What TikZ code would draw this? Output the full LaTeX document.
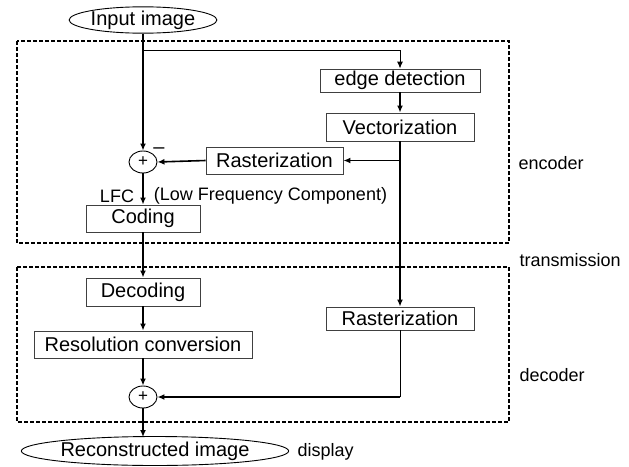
\documentclass[tikz,border=0pt]{standalone}
\usepackage{fontspec}
\setmainfont{Liberation Sans}
\usetikzlibrary{shapes.geometric,arrows.meta}
\begin{document}
\begin{tikzpicture}[x=1pt,y=-1pt,
  lbl/.style={font=\fontsize{20}{24}\selectfont},
  sml/.style={font=\fontsize{18}{22}\selectfont},
  blk/.style={draw=black!75,line width=0.9pt,inner sep=0pt,lbl},
  oval/.style={ellipse,draw=black,line width=0.9pt,inner sep=0pt,lbl},
  sumnode/.style={ellipse,draw=black,line width=0.9pt,inner sep=0pt,minimum width=28pt,minimum height=22pt,font=\fontsize{17}{18}\selectfont},
  grp/.style={draw=black,line width=1.3pt,dash pattern=on 4pt off 2pt},
  flow/.style={line width=1.6pt,-{Latex[length=7pt,width=6pt]}},
  thinflow/.style={line width=1pt,-{Latex[length=7pt,width=6pt]}}]
\useasboundingbox (0,0) rectangle (629,466);
% group boxes
\draw[grp] (17,41) rectangle (509,243);
\draw[grp] (17,267) rectangle (509,422);
% nodes
\node[oval,minimum width=139pt,minimum height=23pt] (in) at (143,20) {Input image};
\node[blk,minimum width=160pt,minimum height=23pt] (edge) at (400,80.5) {edge detection};
\node[blk,minimum width=148pt,minimum height=28pt] (vec) at (400,127) {Vectorization};
\node[blk,minimum width=137pt,minimum height=27pt] (rasE) at (274.5,160.5) {Rasterization};
\node[sumnode] (plusE) at (143,162) {+};
\node[lbl] (minus) at (159,151) {\textendash};
\node[sml] (lfc) at (117,196) {LFC};
\node[sml] (lfcl) at (270.5,196) {(Low Frequency Component)};
\node[blk,minimum width=114pt,minimum height=27pt] (coding) at (143,218.5) {Coding};
\node[blk,minimum width=114pt,minimum height=28pt] (decoding) at (143,292) {Decoding};
\node[blk,minimum width=218pt,minimum height=27pt] (res) at (143,344.5) {Resolution conversion};
\node[blk,minimum width=148pt,minimum height=23pt] (rasD) at (400,318.5) {Rasterization};
\node[sumnode] (plusD) at (143,397) {+};
\node[oval,minimum width=230pt,minimum height=29pt] (rec) at (155,451) {Reconstructed image};
\node[sml,anchor=west] (disp) at (294,452) {display};
\node[sml,anchor=west] (enc) at (515,163) {encoder};
\node[sml,anchor=west] (trans) at (516,260) {transmission};
\node[sml,anchor=west] (dec) at (516,375) {decoder};
% connectors
\coordinate (b1) at (143,50);
\coordinate (b2) at (400,160.5);
\coordinate (recTop) at (143,437);
\draw[flow] (in.south) -- (plusE.north);
\draw[thinflow] (b1) -| (edge.north);
\draw[flow] (edge.south) -- (vec.north);
\draw[flow] (vec.south) -- (rasD.north);
\draw[flow] (b2) -- (rasE.east);
\draw[flow] (rasE.west) -- (plusE.east);
\draw[flow] (plusE.south) -- (coding.north);
\draw[flow] (coding.south) -- (decoding.north);
\draw[flow] (decoding.south) -- (res.north);
\draw[flow] (res.south) -- (plusD.north);
\draw[line width=1pt] (rasD.south) -- (rasD.south |- plusD.east);
\draw[flow] (rasD.south |- plusD.east) -- (plusD.east);
\draw[flow] (plusD.south) -- (recTop);
\end{tikzpicture}
\end{document}
